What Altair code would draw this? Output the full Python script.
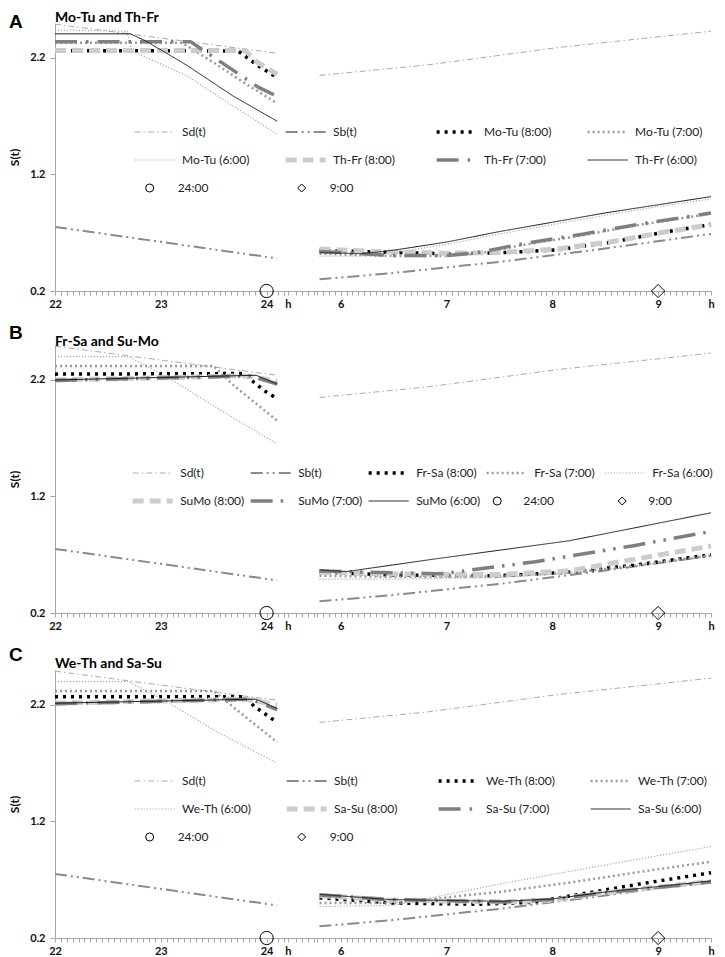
import altair as alt
import pandas as pd

# ---------------- data (hour, S value) ----------------
SD_EVE = [(22.0, 2.49), (24.1, 2.24)]
SD_MOR = [(5.8, 2.05), (6.82, 2.14), (8.06, 2.29), (9.5, 2.43)]
SB_EVE = [(22.0, 0.75), (24.1, 0.48)]
SB_MOR = [(5.8, 0.30), (6.5, 0.355), (7.5, 0.45), (8.5, 0.565), (9.5, 0.69)]

# Panel A: Mo-Tu and Th-Fr
A_G1_8_EVE = [(22.0, 2.263), (23.73, 2.26), (23.91, 2.14), (24.1, 2.03)]
A_G1_8_MOR = [(5.8, 0.55), (6.3, 0.535), (7.0, 0.52), (7.5, 0.528), (8.05, 0.553), (8.57, 0.62), (9.09, 0.71), (9.5, 0.77)]
A_G1_7_EVE = [(22.0, 2.33), (23.2, 2.33), (23.5, 2.16), (23.8, 1.98), (24.1, 1.81)]
A_G1_7_MOR = [(5.8, 0.52), (6.5, 0.50), (7.0, 0.50), (7.3, 0.52), (7.75, 0.60), (8.3, 0.68), (8.8, 0.765), (9.3, 0.835), (9.5, 0.865)]
A_G1_6_EVE = [(22.0, 2.44), (22.68, 2.43), (22.73, 2.26), (23.25, 2.045), (23.68, 1.79), (24.1, 1.545)]
A_G1_6_MOR = [(5.8, 0.50), (6.2, 0.50), (6.5, 0.53), (7.0, 0.60), (7.5, 0.69), (8.0, 0.77), (8.5, 0.85), (9.0, 0.925), (9.5, 0.99)]
A_G2_8_EVE = [(22.0, 2.263), (23.8, 2.263), (23.9, 2.17), (24.1, 2.06)]
A_G2_8_MOR = [(5.8, 0.56), (6.3, 0.54), (7.0, 0.525), (7.5, 0.53), (8.05, 0.56), (8.57, 0.625), (9.09, 0.71), (9.5, 0.77)]
A_G2_7_EVE = [(22.0, 2.34), (23.28, 2.34), (23.51, 2.20), (23.92, 1.95), (24.1, 1.87)]
A_G2_7_MOR = [(5.8, 0.54), (6.5, 0.505), (7.0, 0.505), (7.3, 0.53), (7.75, 0.61), (8.3, 0.69), (8.8, 0.77), (9.3, 0.84), (9.5, 0.87)]
A_G2_6_EVE = [(22.0, 2.407), (22.71, 2.407), (22.85, 2.35), (23.25, 2.135), (23.68, 1.875), (24.1, 1.657)]
A_G2_6_MOR = [(5.8, 0.53), (6.2, 0.52), (6.5, 0.55), (7.0, 0.62), (7.5, 0.71), (8.0, 0.79), (8.5, 0.87), (9.0, 0.94), (9.5, 1.01)]

# Panel B: Fr-Sa and Su-Mo
B_G1_8_EVE = [(22.0, 2.25), (23.79, 2.255), (23.88, 2.18), (23.99, 2.10), (24.1, 2.04)]
B_G1_8_MOR = [(5.8, 0.55), (6.5, 0.525), (7.5, 0.52), (8.16, 0.55), (8.77, 0.61), (9.5, 0.70)]
B_G1_7_EVE = [(22.0, 2.32), (23.5, 2.32), (23.68, 2.16), (24.1, 1.85)]
B_G1_7_MOR = [(5.8, 0.52), (6.5, 0.51), (7.5, 0.515), (8.16, 0.545), (8.77, 0.605), (9.5, 0.695)]
B_G1_6_EVE = [(22.0, 2.40), (22.7, 2.40), (23.07, 2.22), (23.53, 1.96), (24.1, 1.65)]
B_G1_6_MOR = [(5.8, 0.49), (6.5, 0.49), (7.5, 0.505), (8.16, 0.54), (8.77, 0.60), (9.5, 0.69)]
B_G2_8_EVE = [(22.0, 2.20), (23.8, 2.235), (24.1, 2.19)]
B_G2_8_MOR = [(5.8, 0.55), (6.5, 0.535), (7.5, 0.53), (8.16, 0.562), (8.77, 0.66), (9.5, 0.775)]
B_G2_7_EVE = [(22.0, 2.195), (23.85, 2.235), (24.1, 2.165)]
B_G2_7_MOR = [(5.8, 0.56), (6.5, 0.545), (6.95, 0.536), (7.84, 0.64), (8.77, 0.778), (9.5, 0.90)]
B_G2_6_EVE = [(22.0, 2.20), (23.9, 2.24), (24.1, 2.165)]
B_G2_6_MOR = [(5.8, 0.57), (6.05, 0.555), (6.9, 0.665), (8.16, 0.82), (9.5, 1.06)]

# Panel C: We-Th and Sa-Su
C_G1_8_EVE = [(22.0, 2.27), (23.8, 2.27), (23.88, 2.19), (24.1, 2.05)]
C_G1_8_MOR = [(5.8, 0.545), (6.5, 0.50), (7.3, 0.49), (7.8, 0.505), (8.07, 0.545), (8.77, 0.655), (9.5, 0.76)]
C_G1_7_EVE = [(22.0, 2.32), (23.5, 2.32), (23.7, 2.17), (24.1, 1.88)]
C_G1_7_MOR = [(5.8, 0.50), (6.5, 0.50), (7.54, 0.60), (8.16, 0.675), (8.77, 0.76), (9.5, 0.855)]
C_G1_6_EVE = [(22.0, 2.40), (22.7, 2.40), (23.07, 2.22), (23.53, 1.97), (24.1, 1.70)]
C_G1_6_MOR = [(5.8, 0.47), (6.5, 0.48), (7.54, 0.67), (8.77, 0.87), (9.5, 0.985)]
C_G2_8_EVE = [(22.0, 2.215), (23.8, 2.25), (24.1, 2.20)]
C_G2_8_MOR = [(5.8, 0.565), (6.46, 0.525), (7.54, 0.51), (8.0, 0.525), (8.46, 0.585), (9.5, 0.685)]
C_G2_7_EVE = [(22.0, 2.21), (23.85, 2.25), (24.1, 2.16)]
C_G2_7_MOR = [(5.8, 0.57), (6.46, 0.53), (7.54, 0.51), (8.0, 0.53), (8.46, 0.585), (9.5, 0.68)]
C_G2_6_EVE = [(22.0, 2.215), (23.9, 2.25), (24.1, 2.17)]
C_G2_6_MOR = [(5.8, 0.575), (6.46, 0.53), (7.54, 0.515), (8.0, 0.535), (8.46, 0.59), (9.5, 0.69)]

PANEL_LETTERS = ["A", "B", "C"]
PANEL_TITLES = ["Mo-Tu and Th-Fr", "Fr-Sa and Su-Mo", "We-Th and Sa-Su"]
GROUP1 = ["Mo-Tu", "Fr-Sa", "We-Th"]
GROUP2 = ["Th-Fr", "SuMo", "Sa-Su"]
WAKE_LABELS = ["(8:00)", "(7:00)", "(6:00)"]
REF_NAMES = ["Sd(t)", "Sb(t)"]

MARKER_NAMES = ["24:00", "9:00"]
MARKER_TIMES = [24.0, 9.0]
MARKER_LEVEL = [0.2, 0.2]

X_LABEL_TIMES = [22, 23, 24, 24.2, 6, 7, 8, 9, 9.5]
X_LABELS = ["22", "23", "24", "h", "6", "7", "8", "9", "h"]
Y_TICKS = [0.2, 1.2, 2.2]

PANEL_SERIES = [
    [(A_G1_8_EVE, A_G1_8_MOR), (A_G1_7_EVE, A_G1_7_MOR), (A_G1_6_EVE, A_G1_6_MOR),
     (A_G2_8_EVE, A_G2_8_MOR), (A_G2_7_EVE, A_G2_7_MOR), (A_G2_6_EVE, A_G2_6_MOR)],
    [(B_G1_8_EVE, B_G1_8_MOR), (B_G1_7_EVE, B_G1_7_MOR), (B_G1_6_EVE, B_G1_6_MOR),
     (B_G2_8_EVE, B_G2_8_MOR), (B_G2_7_EVE, B_G2_7_MOR), (B_G2_6_EVE, B_G2_6_MOR)],
    [(C_G1_8_EVE, C_G1_8_MOR), (C_G1_7_EVE, C_G1_7_MOR), (C_G1_6_EVE, C_G1_6_MOR),
     (C_G2_8_EVE, C_G2_8_MOR), (C_G2_7_EVE, C_G2_7_MOR), (C_G2_6_EVE, C_G2_6_MOR)],
]

# ---------------- styles ----------------
ROLE_COLORS = ["#aaaaaa", "#8a8a8a", "#000000", "#999999", "#aaaaaa", "#cccccc", "#7f7f7f", "#1a1a1a"]
ROLE_WIDTHS = [1.0, 2.0, 3.5, 2.5, 1.2, 5.0, 3.5, 1.0]
ROLE_DASHES_AC = [[6, 3, 1.5, 3], [12, 4, 2, 4, 2, 4], [3, 5], [2, 3], [1.2, 1.8],
                  [11, 6], [22, 9, 2.5, 9], [1, 0]]
ROLE_DASHES_B = [[6, 3, 1.5, 3], [12, 4, 2, 4, 2, 4], [3, 5], [2, 3], [1.2, 1.8],
                 [11, 6], [22, 8, 2.5, 8, 2.5, 8], [1, 0]]

W = 656
H = 268
K = W / 672.0
LETTER_Y = [5, -6, -9]
TITLE_Y = [-1, 1, -2]
AXIS_GRAY = "#a6a6a6"
FONT = "Lato"

# legend layout (relative to plot origin)
LINE_LEG = [
    dict(x=79 * K, y=109 - 7, cols=4, colpad=33),
    dict(x=77 * K, y=128 - 7, cols=5, colpad=3),
    dict(x=79 * K, y=111 - 7, cols=4, colpad=33),
]
MARK_LEG = [
    dict(x=99 * K - 8, y=165 - 7, colpad=87, loff=22),
    dict(x=454 * K - 7, y=156 - 7, colpad=62, loff=20),
    dict(x=99 * K - 8, y=167 - 7, colpad=87, loff=22),
]


def pos(t):
    # broken time axis: evening 22..24.2 then morning from 5.8
    return t - 22.0 if t >= 12 else t - 3.3


label_pos = [round(pos(t), 4) for t in X_LABEL_TIMES]
minor = set(round(k / 18.0, 4) for k in range(0, 45)) | set(round(2.7 + k / 18.0, 4) for k in range(-4, 64))
minor = [m for m in minor if all(abs(m - lp) > 0.03 for lp in label_pos)]
tick_values = sorted(set(minor) | set(label_pos))
label_expr = ""
for lp, lab in zip(label_pos, X_LABELS):
    label_expr += f"abs(datum.value - {lp}) < 0.003 ? '{lab}' : "
label_expr += "''"

x_axis = alt.Axis(values=tick_values, labelExpr=label_expr, title=None, tickSize=4,
                  labelPadding=3, labelOverlap=False, labelFlush=False, grid=False,
                  domainColor=AXIS_GRAY, tickColor=AXIS_GRAY, labelFontSize=11,
                  labelFontWeight="bold", labelFont=FONT, labelColor="#111")
y_axis = alt.Axis(values=Y_TICKS, format=".1f", title="S(t)", tickSize=5, labelPadding=5,
                  titlePadding=8, grid=False, domainColor=AXIS_GRAY, tickColor=AXIS_GRAY,
                  labelFontSize=11, labelFontWeight="bold", labelFont=FONT, labelColor="#111",
                  titleFont=FONT, titleFontSize=12, titleFontWeight="bold", titleColor="#111")


def make_panel(i):
    names = REF_NAMES + [f"{GROUP1[i]} {w}" for w in WAKE_LABELS] + [f"{GROUP2[i]} {w}" for w in WAKE_LABELS]
    segs = [(SD_EVE, SD_MOR), (SB_EVE, SB_MOR)] + PANEL_SERIES[i]
    rows = []
    for name, (eve, mor) in zip(names, segs):
        for part, pts in (("eve", eve), ("mor", mor)):
            for t, v in pts:
                rows.append({"series": name, "key": name + "|" + part, "p": pos(t), "v": v})
    df = pd.DataFrame(rows)

    x_enc = alt.X("p:Q", scale=alt.Scale(domain=[0, 6.2], nice=False, zero=False), axis=x_axis)
    y_enc = alt.Y("v:Q", scale=alt.Scale(domain=[0.2, 2.5], nice=False, zero=False), axis=y_axis)

    ll = LINE_LEG[i]
    leg = alt.Legend(title=None, orient="none", direction="horizontal", legendX=ll["x"], legendY=ll["y"],
                     columns=ll["cols"], columnPadding=ll["colpad"], rowPadding=14, clipHeight=14,
                     gridAlign="all", padding=0, symbolType="stroke", symbolSize=1600, labelFont=FONT,
                     labelFontSize=12, labelColor="#222", labelOffset=5, labelLimit=200)
    dashes = ROLE_DASHES_B if i == 1 else ROLE_DASHES_AC
    lines = alt.Chart(df).mark_line(strokeCap="butt", strokeJoin="round").encode(
        x=x_enc, y=y_enc,
        color=alt.Color("series:N", scale=alt.Scale(domain=names, range=ROLE_COLORS), legend=leg),
        strokeDash=alt.StrokeDash("series:N", scale=alt.Scale(domain=names, range=dashes), legend=leg),
        strokeWidth=alt.StrokeWidth("series:N", scale=alt.Scale(type="ordinal", domain=names, range=ROLE_WIDTHS), legend=leg),
        detail="key:N",
    )

    mdf = pd.DataFrame({"marker": MARKER_NAMES, "p": [pos(t) for t in MARKER_TIMES], "v": MARKER_LEVEL})
    ml = MARK_LEG[i]
    mleg = alt.Legend(title=None, orient="none", direction="horizontal", legendX=ml["x"], legendY=ml["y"],
                      columns=2, columnPadding=ml["colpad"], clipHeight=14, gridAlign="all", padding=0,
                      symbolSize=64, symbolStrokeWidth=1, symbolStrokeColor="black",
                      labelFont=FONT, labelFontSize=12, labelColor="#222", labelOffset=ml["loff"])
    points = alt.Chart(mdf).mark_point(filled=False, color="black", size=175, strokeWidth=1, opacity=1).encode(
        x=x_enc, y=y_enc,
        shape=alt.Shape("marker:N", scale=alt.Scale(domain=MARKER_NAMES, range=["circle", "diamond"]), legend=mleg),
    )

    tdf = pd.DataFrame({"letter": [PANEL_LETTERS[i]], "title": [PANEL_TITLES[i]]})
    letter = alt.Chart(tdf).mark_text(align="left", baseline="alphabetic", font="Liberation Sans",
                                      fontWeight="bold", fontSize=19, color="black").encode(
        x=alt.value(-46), y=alt.value(LETTER_Y[i]), text="letter:N")
    title = alt.Chart(tdf).mark_text(align="left", baseline="alphabetic", font=FONT,
                                     fontWeight="bold", fontSize=14, color="black").encode(
        x=alt.value(0), y=alt.value(TITLE_Y[i]), text="title:N")

    return alt.layer(lines, points, letter, title).properties(width=W, height=H)


chart = alt.vconcat(*[make_panel(i) for i in range(3)], spacing=15).resolve_scale(
    color="independent", strokeDash="independent", strokeWidth="independent", shape="independent"
).resolve_legend(
    color="independent", strokeDash="independent", strokeWidth="independent", shape="independent"
).properties(padding={"top": 3, "left": 0, "right": 0, "bottom": 0}).configure_view(stroke=None)

chart.save("out.html", embed_options={"renderer": "svg", "actions": False})
